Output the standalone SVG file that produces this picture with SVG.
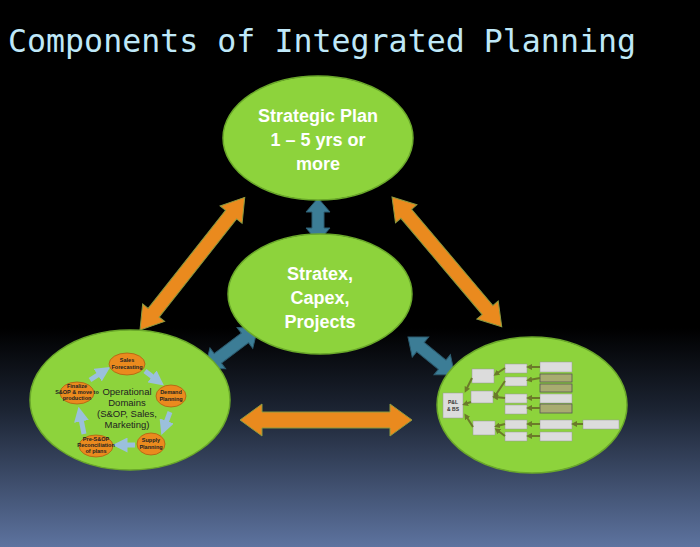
<svg xmlns="http://www.w3.org/2000/svg" width="700" height="547" viewBox="0 0 700 547">
<defs>
<linearGradient id="bg" x1="0" y1="0" x2="0" y2="1">
<stop offset="0" stop-color="#000"/><stop offset="0.6" stop-color="#000"/><stop offset="0.75" stop-color="#1c2433"/><stop offset="1" stop-color="#5d739f"/>
</linearGradient>
<marker id="bh" viewBox="0 0 10 10" refX="5" refY="5" markerWidth="3" markerHeight="3" orient="auto"><path d="M0,0L10,5L0,10z" fill="#9bc0dc"/></marker>
<marker id="gh" viewBox="0 0 10 10" refX="5" refY="5" markerWidth="3" markerHeight="3" orient="auto"><path d="M0,0L10,5L0,10z" fill="#6b7a2a"/></marker>
</defs>
<style>
.big{fill:#8dd33c;stroke:#6aa82a;stroke-width:1.5}
.bt{font-family:"Liberation Sans",Arial,sans-serif;font-weight:bold;fill:#fff;font-size:18px;text-anchor:middle}
.or{fill:#ea8a1e;stroke:#8a9a40;stroke-width:1}
.bl{fill:#3c7d96;stroke:#2c5c70;stroke-width:1}
.sm{fill:#ea8a1e;stroke:#b06010;stroke-width:0.8}
.st{font-family:"Liberation Sans",Arial,sans-serif;font-weight:bold;font-size:5.5px;text-anchor:middle;fill:#222}
.ot{font-family:"Liberation Sans",Arial,sans-serif;font-size:9.5px;text-anchor:middle;fill:#222}
.ba{stroke:#9bc0dc;stroke-width:5;fill:none;marker-end:url(#bh)}
.bx{fill:#dcdcdc;stroke:#999;stroke-width:0.5}
.bo{fill:#a8ac70;stroke:#555;stroke-width:0.8}
.ga{stroke:#6b7a2a;stroke-width:2;fill:none;marker-end:url(#gh)}
.bxt{font-family:"Liberation Sans",Arial,sans-serif;font-size:5px;text-anchor:middle;fill:#333}
</style>
<rect width="700" height="547" fill="url(#bg)"/>
<text x="8" y="52" font-family="'DejaVu Sans Mono',monospace" font-size="32" fill="#bfe8f8" textLength="628" lengthAdjust="spacingAndGlyphs">Components of Integrated Planning</text>

<g id="connectors">
<polygon class="or" transform="translate(140,330) rotate(-51.7)" points="0,0 22,-14 22,-7 147,-7 147,-14 169,0 147,14 147,7 22,7 22,14"/>
<polygon class="or" transform="translate(392,197) rotate(49.8)" points="0,0 22,-14 22,-7 148,-7 148,-14 170,0 148,14 148,7 22,7 22,14"/>
<polygon class="or" transform="translate(240,420)" points="0,0 22,-16 22,-8 150,-8 150,-16 172,0 150,16 150,8 22,8 22,16"/>
<polygon class="bl" transform="translate(318,198) rotate(90)" points="0,0 14,-12 14,-6 30,-6 30,-12 44,0 30,12 30,6 14,6 14,12"/>
<polygon class="bl" transform="translate(205,368) rotate(-37)" points="0,0 16,-13 16,-6 50,-6 50,-13 66,0 50,13 50,6 16,6 16,13"/>
<polygon class="bl" transform="translate(408,337) rotate(39)" points="0,0 16,-13 16,-6 44,-6 44,-13 60,0 44,13 44,6 16,6 16,13"/>
</g>

<g id="strategic">
<ellipse class="big" cx="318" cy="138" rx="95" ry="62"/>
<text class="bt" x="318" y="122">Strategic Plan</text>
<text class="bt" x="318" y="146">1 – 5 yrs or</text>
<text class="bt" x="318" y="170">more</text>
</g>

<g id="stratex">
<ellipse class="big" cx="320" cy="294" rx="92" ry="60"/>
<text class="bt" x="320" y="280">Stratex,</text>
<text class="bt" x="320" y="304">Capex,</text>
<text class="bt" x="320" y="328">Projects</text>
</g>

<g id="operational">
<ellipse class="big" cx="130" cy="400" rx="100" ry="70"/>
<text class="ot" x="127" y="395">Operational</text>
<text class="ot" x="127" y="406">Domains</text>
<text class="ot" x="127" y="417">(S&amp;OP, Sales,</text>
<text class="ot" x="127" y="428">Marketing)</text>
<path class="ba" d="M145,371 L158,381"/>
<path class="ba" d="M170,412 L164,428"/>
<path class="ba" d="M135,445 L120,445"/>
<path class="ba" d="M84,434 L80,414"/>
<path class="ba" d="M90,380 L104,371"/>
<ellipse class="sm" cx="127" cy="364" rx="18" ry="11"/>
<text class="st" x="127" y="362">Sales</text><text class="st" x="127" y="369">Forecasting</text>
<ellipse class="sm" cx="171" cy="396" rx="15" ry="11"/>
<text class="st" x="171" y="394">Demand</text><text class="st" x="171" y="401">Planning</text>
<ellipse class="sm" cx="151" cy="444" rx="14" ry="11"/>
<text class="st" x="151" y="442">Supply</text><text class="st" x="151" y="449">Planning</text>
<ellipse class="sm" cx="96" cy="446" rx="17" ry="11"/>
<text class="st" x="96" y="441" font-size="4.3">Pre-S&amp;OP</text><text class="st" x="96" y="447" font-size="4.3">Reconciliation</text><text class="st" x="96" y="453" font-size="4.3">of plans</text>
<ellipse class="sm" cx="77" cy="393" rx="17" ry="11"/>
<text class="st" x="77" y="388" font-size="4.3">Finalize</text><text class="st" x="77" y="394" font-size="4.3">S&amp;OP &amp; move to</text><text class="st" x="77" y="400" font-size="4.3">production</text>
</g>

<g id="financial">
<ellipse class="big" cx="532" cy="405" rx="95" ry="68"/>
<rect class="bx" x="443" y="393" width="20" height="25"/>
<text class="bxt" x="453" y="404" font-weight="bold">P&amp;L</text><text class="bxt" x="453" y="411" font-weight="bold">&amp; BS</text>
<rect class="bx" x="472" y="369" width="22" height="14"/>
<rect class="bx" x="471" y="391" width="22" height="12"/>
<rect class="bx" x="473" y="421" width="22" height="14"/>
<rect class="bx" x="505" y="364" width="22" height="9"/>
<rect class="bx" x="505" y="377" width="22" height="9"/>
<rect class="bx" x="505" y="394" width="22" height="9"/>
<rect class="bx" x="505" y="405" width="22" height="9"/>
<rect class="bx" x="505" y="420" width="22" height="9"/>
<rect class="bx" x="505" y="432" width="22" height="9"/>
<rect class="bx" x="540" y="362" width="32" height="10"/>
<rect class="bo" x="540" y="374" width="32" height="8"/>
<rect class="bo" x="540" y="384" width="32" height="8"/>
<rect class="bx" x="540" y="394" width="32" height="9"/>
<rect class="bo" x="540" y="404" width="32" height="9"/>
<rect class="bx" x="540" y="420" width="32" height="9"/>
<rect class="bx" x="540" y="432" width="32" height="9"/>
<rect class="bx" x="583" y="420" width="36" height="9"/>
<path class="ga" d="M471,402 L465,404"/>
<path class="ga" d="M472,378 L466,390"/>
<path class="ga" d="M473,427 L466,416"/>
<path class="ga" d="M505,368 L496,374"/>
<path class="ga" d="M505,381 L495,396"/>
<path class="ga" d="M505,398 L495,397"/>
<path class="ga" d="M505,424 L497,426"/>
<path class="ga" d="M505,436 L497,430"/>
<path class="ga" d="M540,367 L529,367"/>
<path class="ga" d="M540,378 L529,380"/>
<path class="ga" d="M540,398 L529,398"/>
<path class="ga" d="M540,408 L529,408"/>
<path class="ga" d="M540,424 L529,424"/>
<path class="ga" d="M540,436 L529,436"/>
<path class="ga" d="M583,424 L574,424"/>
</g>
</svg>
